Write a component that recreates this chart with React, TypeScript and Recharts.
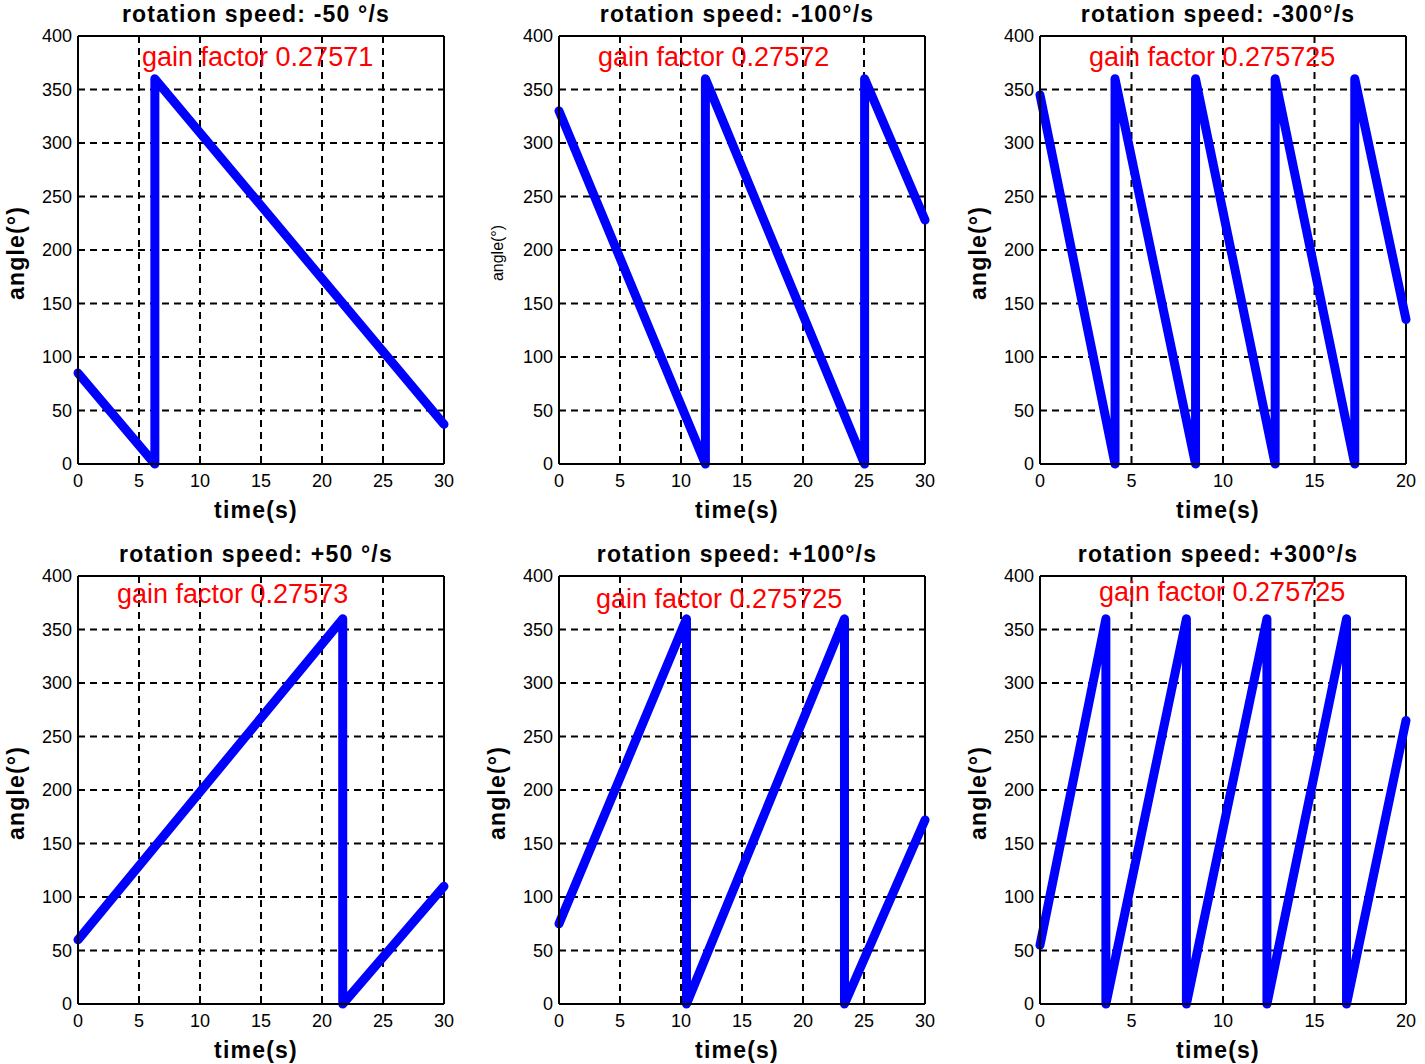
import { LineChart, Line, XAxis, YAxis, CartesianGrid, ReferenceLine } from 'recharts';

// time (s) / angle (deg) samples per panel
const tNeg50 = [0, 6.3, 6.3, 30];
const aNeg50 = [85, 0, 360, 37];
const tNeg100 = [0, 12.0, 12.0, 25.05, 25.05, 30];
const aNeg100 = [330, 0, 360, 0, 360, 228];
const tNeg300 = [0, 4.1, 4.1, 8.5, 8.5, 12.85, 12.85, 17.2, 17.2, 20];
const aNeg300 = [345, 0, 360, 0, 360, 0, 360, 0, 360, 135];
const tPos50 = [0, 21.7, 21.7, 30];
const aPos50 = [60, 360, 0, 110];
const tPos100 = [0, 10.45, 10.45, 23.4, 23.4, 30];
const aPos100 = [75, 360, 0, 360, 0, 172];
const tPos300 = [0, 3.6, 3.6, 8.0, 8.0, 12.4, 12.4, 16.75, 16.75, 20];
const aPos300 = [55, 360, 0, 360, 0, 360, 0, 360, 0, 265];

const yTicks = [0, 50, 100, 150, 200, 250, 300, 350, 400];
const xTicks30 = [0, 5, 10, 15, 20, 25, 30];
const xTicks20 = [0, 5, 10, 15, 20];

const titles = [
  'rotation speed: -50 °/s',
  'rotation speed: -100°/s',
  'rotation speed: -300°/s',
  'rotation speed: +50 °/s',
  'rotation speed: +100°/s',
  'rotation speed: +300°/s',
];
const gains = [
  'gain factor 0.27571',
  'gain factor 0.27572',
  'gain factor 0.275725',
  'gain factor 0.27573',
  'gain factor 0.275725',
  'gain factor 0.275725',
];

const zip = (t: number[], a: number[]) => t.map((v, i) => ({ t: v, a: a[i] }));

const FONT = '"Liberation Sans", Arial, sans-serif';

const panels = [
  { data: zip(tNeg50, aNeg50), ticks: xTicks30, left: 78, top: 36, gx: 142, gy: 44, smallY: false },
  { data: zip(tNeg100, aNeg100), ticks: xTicks30, left: 559, top: 36, gx: 598, gy: 44, smallY: true },
  { data: zip(tNeg300, aNeg300), ticks: xTicks20, left: 1040, top: 36, gx: 1089, gy: 44, smallY: false },
  { data: zip(tPos50, aPos50), ticks: xTicks30, left: 78, top: 576, gx: 117, gy: 581, smallY: false },
  { data: zip(tPos100, aPos100), ticks: xTicks30, left: 559, top: 576, gx: 596, gy: 586, smallY: false },
  { data: zip(tPos300, aPos300), ticks: xTicks20, left: 1040, top: 576, gx: 1099, gy: 579, smallY: false },
];

const PW = 366;
const PH = 428;
const ML = 60;
const MT = 14;
const MR = 16;
const MB = 34;

const bold: React.CSSProperties = {
  position: 'absolute',
  fontFamily: FONT,
  fontWeight: 'bold',
  fontSize: 23,
  letterSpacing: 1.2,
  whiteSpace: 'nowrap',
  color: '#000',
  lineHeight: 1,
};

const Panel = ({ idx }: { idx: number }) => {
  const p = panels[idx];
  const xMax = p.ticks[p.ticks.length - 1];
  const cx = p.left + PW / 2 - 5;
  const cy = p.top + PH / 2 + 3;
  return (
    <>
      <div style={{ position: 'absolute', left: p.left - ML, top: p.top - MT }}>
        <LineChart
          width={PW + ML + MR}
          height={PH + MT + MB}
          data={p.data}
          margin={{ top: MT, right: MR, bottom: 0, left: 0 }}
        >
          <CartesianGrid stroke="#000" strokeWidth={2} strokeDasharray="7 5" />
          <XAxis
            dataKey="t"
            type="number"
            domain={[0, xMax]}
            ticks={p.ticks}
            interval={0}
            height={MB}
            tickLine={false}
            tickSize={6}
            tickMargin={4}
            axisLine={{ stroke: '#000', strokeWidth: 2 }}
            tick={{ fill: '#000', fontSize: 18, fontFamily: FONT }}
          />
          <YAxis
            type="number"
            domain={[0, 400]}
            ticks={yTicks}
            interval={0}
            width={ML}
            tickLine={false}
            tickSize={6}
            tickMargin={0}
            axisLine={{ stroke: '#000', strokeWidth: 2 }}
            tick={{ fill: '#000', fontSize: 18, fontFamily: FONT }}
          />
          <ReferenceLine y={400} stroke="#000" strokeWidth={2} />
          <ReferenceLine x={xMax} stroke="#000" strokeWidth={2} />
          <Line
            type="linear"
            dataKey="a"
            stroke="#0000ff"
            strokeWidth={9}
            strokeLinejoin="round"
            strokeLinecap="round"
            dot={false}
            isAnimationActive={false}
          />
        </LineChart>
      </div>
      <div style={{ ...bold, left: cx, top: p.top - 33, transform: 'translateX(-50%)' }}>{titles[idx]}</div>
      <div style={{ ...bold, left: cx, top: p.top + PH + 35, transform: 'translateX(-50%)' }}>time(s)</div>
      <div
        style={
          p.smallY
            ? { ...bold, fontWeight: 'normal', fontSize: 16, letterSpacing: 0, left: p.left - 61, top: cy, transform: 'translate(-50%,-50%) rotate(-90deg)' }
            : { ...bold, left: p.left - 62, top: cy, transform: 'translate(-50%,-50%) rotate(-90deg)' }
        }
      >
        angle(°)
      </div>
      <div
        style={{
          position: 'absolute',
          left: p.gx,
          top: p.gy,
          fontFamily: FONT,
          fontSize: 27,
          lineHeight: 1,
          color: '#ff0000',
          whiteSpace: 'nowrap',
        }}
      >
        {gains[idx]}
      </div>
    </>
  );
};

const App = () => (
  <div style={{ position: 'absolute', left: 0, top: 0, width: 1425, height: 1064, background: '#fff', overflow: 'hidden' }}>
    {panels.map((_, i) => (
      <Panel key={i} idx={i} />
    ))}
  </div>
);

export default App;
